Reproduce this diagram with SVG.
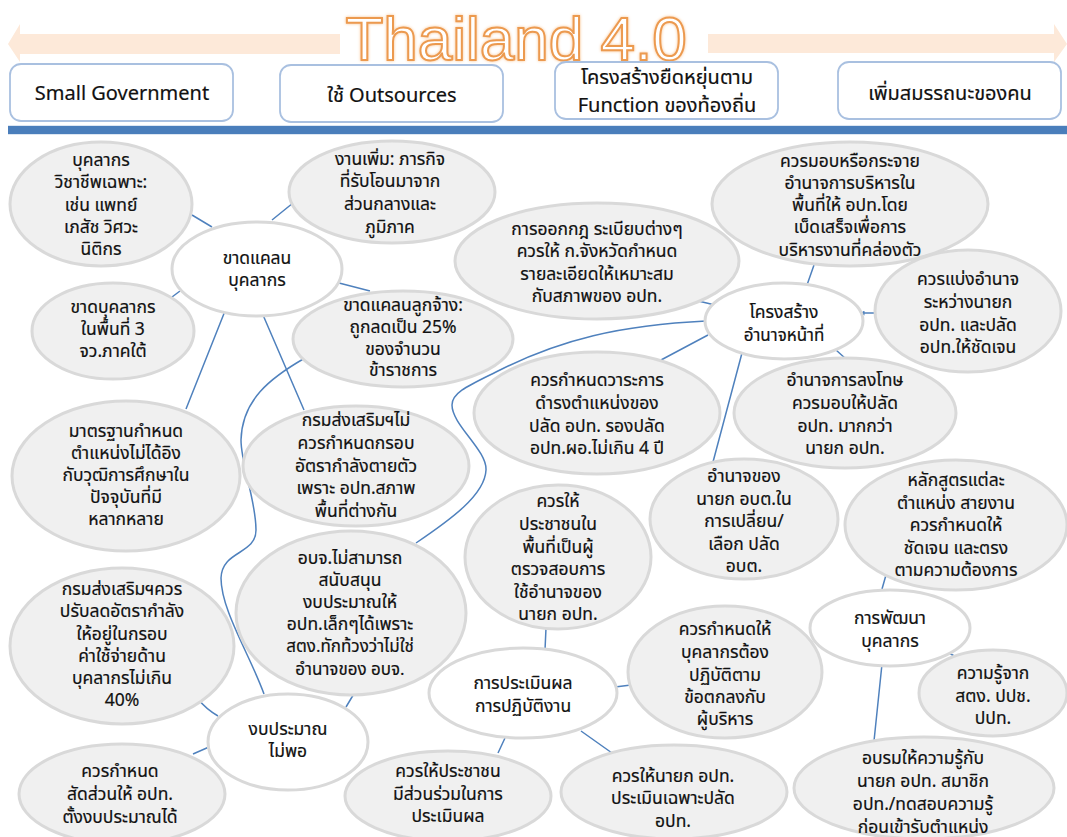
<svg xmlns="http://www.w3.org/2000/svg" width="1067" height="837" viewBox="0 0 1067 837">
<style>
text{font-family:"Noto Sans","Noto Sans Thai","DejaVu Sans","Liberation Sans",sans-serif;font-size:17.5px;fill:#111;stroke:#111;stroke-width:.2;text-anchor:middle}
.g{fill:#f0f0f0;stroke:#d9d9d9;stroke-width:3}
.w{fill:#fff;stroke:#d9d9d9;stroke-width:3}
.b{fill:#fff;stroke:#a9c0e0;stroke-width:1.8}
.h{font-size:20px}
.c{fill:none;stroke:#4f81bd;stroke-width:1.5}
.t{font-family:"Liberation Sans",sans-serif;font-size:62px;fill:#fff;stroke:#ec9a50;stroke-width:2;filter:url(#gl)}
.ar{fill:#fde9d9}
</style>
<defs>
<filter id="gl" x="-5%" y="-20%" width="110%" height="140%"><feGaussianBlur stdDeviation="1.6" in="SourceAlpha" result="a"/><feFlood flood-color="#f9c48f"/><feComposite in2="a" operator="in" result="f"/><feMerge><feMergeNode in="f"/><feMergeNode in="SourceGraphic"/></feMerge></filter>
<marker id="ah" markerWidth="5" markerHeight="5" refX="3.5" refY="2.5" orient="auto" markerUnits="userSpaceOnUse"><path d="M0,0L4,2.5L0,5Z" fill="#4f81bd"/></marker>
</defs>
<rect width="1067" height="837" fill="#fff"/>
<g id="title">
<polygon class="ar" points="340,34 20,34 20,24 8,44 20,62 20,54 340,54"/>
<polygon class="ar" points="708,34 1054,34 1054,24 1067,44 1054,62 1054,53 708,53"/>
<text class="t" x="516" y="60">Thailand 4.0</text>
</g>
<g id="header-1"><rect class="b" x="10" y="64" width="223" height="57" rx="11"/><text class="h" x="122" y="100">Small Government</text></g>
<g id="header-2"><rect class="b" x="280" y="65" width="223" height="57" rx="11"/><text class="h" x="392" y="102">ใช้ Outsources</text></g>
<g id="header-3"><rect class="b" x="555" y="62" width="223" height="57" rx="11"/><text class="h" x="667" y="84">โครงสร้างยืดหยุ่นตาม</text><text class="h" x="667" y="112">Function ของท้องถิ่น</text></g>
<g id="header-4"><rect class="b" x="838" y="62" width="223" height="57" rx="11"/><text class="h" x="950" y="100">เพิ่มสมรรถนะของคน</text></g>
<g id="bar"><rect x="8" y="125" width="1059" height="10" fill="#dce6f2"/><rect x="8" y="126" width="1059" height="8" fill="#4a7ebb"/></g>
<g id="connectors">
<path class="c" d="M192,215L212,227M272,220L293,203M339,283L370,291M180,291L172,297M225,311L186,409M263,315L304,410"/>
<path class="c" d="M305,358C270,378 242,400 241,440C241,465 256,500 256,530C256,555 222,550 221,578C221,610 250,655 264,694"/>
<path class="c" d="M706,321C620,325 560,340 500,370C470,385 452,392 452,405C452,425 487,450 486,470C485,495 450,520 416,543"/>
<path class="c" d="M814,265L807,285M694,300L715,305M708,335L661,360M742,353L713,462M836,350L846,359"/>
<path class="c" d="M876,313L861,313" marker-end="url(#ah)"/>
<path class="c" d="M198,699Q206,709 218,716M209,747L193,754M355,692L346,707M546,628L545,650M615,687L631,685M505,738L498,753M581,731L612,753M886,575L882,589M949,653L956,657M882,664L874,741"/>
</g>
<g id="n1"><ellipse class="g" cx="101" cy="204" rx="91" ry="62"/><text x="101" y="166">บุคลากร</text><text x="101" y="188">วิชาชีพเฉพาะ:</text><text x="101" y="211">เช่น แพทย์</text><text x="101" y="233">เภสัช วิศวะ</text><text x="101" y="255">นิติกร</text></g>
<g id="n2"><ellipse class="g" cx="392" cy="192" rx="103" ry="51"/><text x="390" y="165">งานเพิ่ม: ภารกิจ</text><text x="390" y="187">ที่รับโอนมาจาก</text><text x="390" y="210">ส่วนกลางและ</text><text x="390" y="233">ภูมิภาค</text></g>
<g id="n3"><ellipse class="w" cx="257" cy="269" rx="85" ry="47"/><text x="257" y="264">ขาดแคลน</text><text x="257" y="286">บุคลากร</text></g>
<g id="n4"><ellipse class="g" cx="113" cy="331" rx="81" ry="48"/><text x="113" y="313">ขาดบุคลากร</text><text x="113" y="335">ในพื้นที่ 3</text><text x="113" y="357">จว.ภาคใต้</text></g>
<g id="n5"><ellipse class="g" cx="403" cy="339" rx="110" ry="48"/><text x="403" y="311">ขาดแคลนลูกจ้าง:</text><text x="403" y="333">ถูกลดเป็น 25%</text><text x="403" y="355">ของจำนวน</text><text x="403" y="376">ข้าราชการ</text></g>
<g id="n6"><ellipse class="g" cx="126" cy="476" rx="114" ry="75"/><text x="126" y="437">มาตรฐานกำหนด</text><text x="126" y="459">ตำแหน่งไม่ได้อิง</text><text x="126" y="481">กับวุฒิการศึกษาใน</text><text x="126" y="503">ปัจจุบันที่มี</text><text x="126" y="525">หลากหลาย</text></g>
<g id="n7"><ellipse class="g" cx="356" cy="466" rx="113" ry="60"/><text x="356" y="426">กรมส่งเสริมฯไม่</text><text x="356" y="449">ควรกำหนดกรอบ</text><text x="356" y="472">อัตรากำลังตายตัว</text><text x="356" y="494">เพราะ อปท.สภาพ</text><text x="356" y="517">พื้นที่ต่างกัน</text></g>
<g id="n8"><ellipse class="g" cx="351" cy="613" rx="115" ry="82"/><text x="350" y="564">อบจ.ไม่สามารถ</text><text x="350" y="586">สนับสนุน</text><text x="350" y="608">งบประมาณให้</text><text x="350" y="630">อปท.เล็กๆได้เพราะ</text><text x="350" y="652" style="font-size:17px">สตง.ทักท้วงว่าไม่ใช่</text><text x="350" y="675" style="font-size:17px">อำนาจของ อบจ.</text></g>
<g id="n9"><ellipse class="g" cx="122" cy="646" rx="112" ry="78"/><text x="122" y="595">กรมส่งเสริมฯควร</text><text x="122" y="617">ปรับลดอัตรากำลัง</text><text x="122" y="640">ให้อยู่ในกรอบ</text><text x="122" y="662">ค่าใช้จ่ายด้าน</text><text x="122" y="684">บุคลากรไม่เกิน</text><text x="122" y="706">40%</text></g>
<g id="n10"><ellipse class="w" cx="288" cy="742" rx="80" ry="48"/><text x="288" y="735">งบประมาณ</text><text x="288" y="757">ไม่พอ</text></g>
<g id="n11"><ellipse class="g" cx="122" cy="794" rx="103" ry="50"/><text x="120" y="777">ควรกำหนด</text><text x="120" y="800">สัดส่วนให้ อปท.</text><text x="120" y="823">ตั้งงบประมาณได้</text></g>
<g id="n12"><ellipse class="g" cx="448" cy="796" rx="103" ry="45"/><text x="448" y="777">ควรให้ประชาชน</text><text x="448" y="800">มีส่วนร่วมในการ</text><text x="448" y="822">ประเมินผล</text></g>
<g id="n13"><ellipse class="w" cx="523" cy="693" rx="94" ry="45"/><text x="523" y="689">การประเมินผล</text><text x="523" y="712">การปฏิบัติงาน</text></g>
<g id="n14"><ellipse class="g" cx="558" cy="557" rx="93" ry="72"/><text x="558" y="507">ควรให้</text><text x="558" y="530">ประชาชนใน</text><text x="558" y="553">พื้นที่เป็นผู้</text><text x="558" y="575">ตรวจสอบการ</text><text x="558" y="598">ใช้อำนาจของ</text><text x="558" y="620">นายก อปท.</text></g>
<g id="n15"><ellipse class="g" cx="725" cy="672" rx="97" ry="66"/><text x="725" y="635">ควรกำหนดให้</text><text x="725" y="658">บุคลากรต้อง</text><text x="725" y="681">ปฏิบัติตาม</text><text x="725" y="703">ข้อตกลงกับ</text><text x="725" y="725">ผู้บริหาร</text></g>
<g id="n16"><ellipse class="g" cx="674" cy="792" rx="113" ry="47"/><text x="673" y="782">ควรให้นายก อปท.</text><text x="673" y="804">ประเมินเฉพาะปลัด</text><text x="673" y="827">อปท.</text></g>
<g id="n17"><ellipse class="g" cx="744" cy="519" rx="94" ry="60"/><text x="744" y="482">อำนาจของ</text><text x="744" y="505">นายก อบต.ใน</text><text x="744" y="527">การเปลี่ยน/</text><text x="744" y="550">เลือก ปลัด</text><text x="744" y="572">อบต.</text></g>
<g id="n18"><ellipse class="g" cx="956" cy="525" rx="111" ry="65"/><text x="956" y="486">หลักสูตรแต่ละ</text><text x="956" y="509">ตำแหน่ง สายงาน</text><text x="956" y="531">ควรกำหนดให้</text><text x="956" y="554">ชัดเจน และตรง</text><text x="956" y="576">ตามความต้องการ</text></g>
<g id="n19"><ellipse class="w" cx="890" cy="628" rx="80" ry="38"/><text x="890" y="624">การพัฒนา</text><text x="890" y="647">บุคลากร</text></g>
<g id="n20"><ellipse class="g" cx="993" cy="693" rx="74" ry="43"/><text x="993" y="679">ความรู้จาก</text><text x="993" y="702">สตง. ปปช.</text><text x="993" y="724">ปปท.</text></g>
<g id="n21"><ellipse class="g" cx="924" cy="788" rx="130" ry="51"/><text x="923" y="764">อบรมให้ความรู้กับ</text><text x="923" y="787">นายก อปท. สมาชิก</text><text x="923" y="810">อปท./ทดสอบความรู้</text><text x="923" y="833">ก่อนเข้ารับตำแหน่ง</text></g>
<g id="n22"><ellipse class="g" cx="597" cy="261" rx="142" ry="58"/><text x="597" y="235">การออกกฎ ระเบียบต่างๆ</text><text x="597" y="257">ควรให้ ก.จังหวัดกำหนด</text><text x="597" y="280">รายละเอียดให้เหมาะสม</text><text x="597" y="302">กับสภาพของ อปท.</text></g>
<g id="n23"><ellipse class="g" cx="850" cy="204" rx="138" ry="62"/><text x="850" y="167">ควรมอบหรือกระจาย</text><text x="850" y="189">อำนาจการบริหารใน</text><text x="850" y="211">พื้นที่ให้ อปท.โดย</text><text x="850" y="233">เบ็ดเสร็จเพื่อการ</text><text x="850" y="256">บริหารงานที่คล่องตัว</text></g>
<g id="n24"><ellipse class="g" cx="968" cy="311" rx="93" ry="61"/><text x="968" y="285">ควรแบ่งอำนาจ</text><text x="968" y="308">ระหว่างนายก</text><text x="968" y="331">อปท. และปลัด</text><text x="968" y="353">อปท.ให้ชัดเจน</text></g>
<g id="n25"><ellipse class="w" cx="784" cy="321" rx="79" ry="38"/><text x="784" y="318">โครงสร้าง</text><text x="784" y="341" style="font-size:17px">อำนาจหน้าที่</text></g>
<g id="n26"><ellipse class="g" cx="845" cy="413" rx="111" ry="55"/><text x="845" y="386">อำนาจการลงโทษ</text><text x="845" y="409">ควรมอบให้ปลัด</text><text x="845" y="432">อปท. มากกว่า</text><text x="845" y="454">นายก อปท.</text></g>
<g id="n27"><ellipse class="g" cx="597" cy="413" rx="123" ry="61"/><text x="597" y="386">ควรกำหนดวาระการ</text><text x="597" y="409">ดำรงตำแหน่งของ</text><text x="597" y="432">ปลัด อปท. รองปลัด</text><text x="597" y="454">อปท.ผอ.ไม่เกิน 4 ปี</text></g>
</svg>
